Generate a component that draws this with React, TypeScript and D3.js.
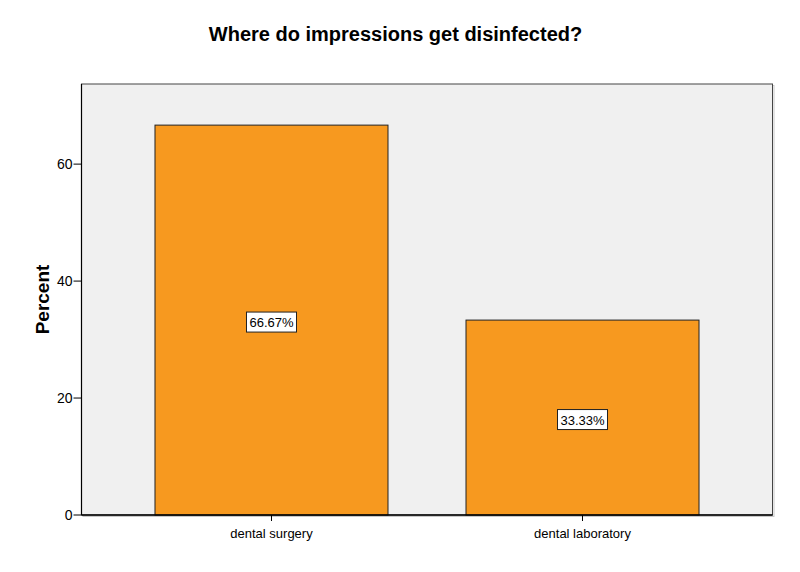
import React from "react";
import * as d3 from "d3";

const categories = ["dental surgery", "dental laboratory"];
const percents = [66.67, 33.33];
const yTicks = [0, 20, 40, 60];
const title = "Where do impressions get disinfected?";
const yLabel = "Percent";

const W = 800;
const H = 572;
const M = { left: 81.5, right: 772.5, top: 84, bottom: 515 };

export default function App() {
  const y = d3.scaleLinear().domain([0, 73.7]).range([M.bottom, M.top]);
  const x = d3
    .scaleBand<string>()
    .domain(categories)
    .range([M.left, M.right])
    .paddingInner(0.2508)
    .paddingOuter(0.2363);
  const bw = x.bandwidth();
  const font = "Liberation Sans, Arial, sans-serif";
  return (
    <svg
      width={W}
      height={H}
      style={{ position: "absolute", left: 0, top: 0, background: "#fff" }}
      fontFamily={font}
    >
      <text x={395.5} y={41} textAnchor="middle" fontSize={20} fontWeight="bold" fill="#000">
        {title}
      </text>
      <rect
        x={M.left + 1.5}
        y={M.top + 1.5}
        width={M.right - M.left}
        height={M.bottom - M.top}
        fill="none"
        stroke="#c8c8c8"
        strokeWidth={1}
      />
      <rect
        x={M.left}
        y={M.top}
        width={M.right - M.left}
        height={M.bottom - M.top}
        fill="#f0f0f0"
        stroke="#444"
        strokeWidth={1}
      />
      {categories.map((c, i) => (
        <g key={c}>
          <rect
            x={x(c)!}
            y={y(percents[i])}
            width={bw}
            height={y(0) - y(percents[i])}
            fill="#f7991f"
            stroke="#222"
            strokeWidth={1}
          />
          <rect
            x={x(c)! + bw / 2 - 25}
            y={y(percents[i] / 2) - 8}
            width={50}
            height={20}
            fill="#fff"
            stroke="#222"
            strokeWidth={1}
          />
          <text
            x={x(c)! + bw / 2}
            y={y(percents[i] / 2) + 7}
            textAnchor="middle"
            fontSize={13}
            fill="#000"
          >
            {percents[i].toFixed(2) + "%"}
          </text>
          <line
            x1={x(c)! + bw / 2}
            x2={x(c)! + bw / 2}
            y1={M.bottom}
            y2={M.bottom + 6}
            stroke="#000"
          />
          <text x={x(c)! + bw / 2} y={538} textAnchor="middle" fontSize={13} fill="#000">
            {c}
          </text>
        </g>
      ))}
      <line x1={M.left} x2={M.left} y1={M.top} y2={M.bottom} stroke="#000" strokeWidth={1.2} />
      <line x1={M.left} x2={M.right} y1={M.bottom} y2={M.bottom} stroke="#000" strokeWidth={1.5} />
      {yTicks.map((t) => (
        <g key={t}>
          <line x1={M.left - 8} x2={M.left} y1={y(t)} y2={y(t)} stroke="#000" />
          <text x={M.left - 9} y={y(t) + 5} textAnchor="end" fontSize={14} fill="#000">
            {t}
          </text>
        </g>
      ))}
      <text
        transform={`translate(49,${(M.top + M.bottom) / 2}) rotate(-90)`}
        textAnchor="middle"
        fontSize={19}
        fontWeight="bold"
        fill="#000"
      >
        {yLabel}
      </text>
    </svg>
  );
}
